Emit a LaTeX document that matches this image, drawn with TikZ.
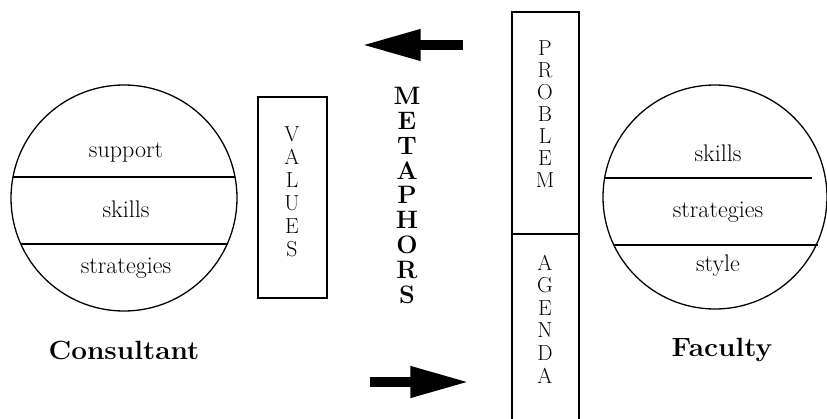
\documentclass[tikz,border=0pt]{standalone}
\usetikzlibrary{arrows.meta}
\tikzset{
  lbl/.style={font=\fontsize{20.5}{24}\selectfont, inner sep=0pt},
  letter/.style={font=\fontsize{18.5}{22}\selectfont, inner sep=0pt},
  bletter/.style={font=\fontsize{21.5}{25}\selectfont\bfseries, inner sep=0pt},
  title/.style={font=\fontsize{22.5}{27}\selectfont\bfseries, inner sep=0pt},
  ring/.style={draw, line width=1.1pt},
  chord/.style={line width=1pt},
  boxline/.style={draw, line width=1.1pt},
  bigarrow/.style={line width=8pt, -{Triangle[length=50pt,width=25pt]}}
}
\begin{document}
\begin{tikzpicture}[x=0.03cm,y=-0.03cm]
\useasboundingbox (0,0) rectangle (827,419);
% left circle
\node[ring, circle, minimum size=226*0.03cm, inner sep=0pt] (lc) at (124,198) {};
\draw[chord] (13,177) -- (235,177);
\draw[chord] (21,244) -- (228,244);
\node[lbl] (l1) at (126,152) {support};
\node[lbl] (l2) at (126,209) {skills};
\node[lbl] (l3) at (126,268) {strategies};
\node[title] (cons) at (124,350) {\scalebox{1.06}[1]{Consultant}};
% values box
\draw[boxline] (258,97) rectangle (327,298);
\foreach \l [count=\i] in {V,A,L,U,E,S}
  \node[letter] (v\i) at (292,{134+23*(\i-1)}) {\l};
% metaphors
\foreach \l [count=\i] in {M,E,T,A,P,H,O,R,S}
  \node[bletter] (m\i) at (407,{96+24.8*(\i-1)}) {\l};
% arrows
\coordinate (a1s) at (463,45);
\coordinate (a1e) at (362,45);
\draw[bigarrow] (a1s) -- (a1e);
\coordinate (a2s) at (370,382);
\coordinate (a2e) at (469,382);
\draw[bigarrow] (a2s) -- (a2e);
% problem / agenda
\draw[boxline] (512,420) -- (512,12) -- (579,12) -- (579,420);
\draw[boxline] (512,234) -- (579,234);
\foreach \l [count=\i] in {P,R,O,B,L,E,M}
  \node[letter] (p\i) at (545,{48+22*(\i-1)}) {\l};
\foreach \l [count=\i] in {A,G,E,N,D,A}
  \node[letter] (g\i) at (545,{263+22.5*(\i-1)}) {\l};
% right circle
\node[ring, circle, minimum size=224*0.03cm, inner sep=0pt] (rc) at (715,197) {};
\draw[chord] (605,178) -- (812,178);
\draw[chord] (614,245) -- (818,245);
\node[lbl] (r1) at (718,153) {skills};
\node[lbl] (r2) at (718,212) {strategies};
\node[lbl] (r3) at (718,266) {style};
\node[title] (fac) at (722,350) {\scalebox{1.06}[1]{Faculty}};
\end{tikzpicture}
\end{document}
